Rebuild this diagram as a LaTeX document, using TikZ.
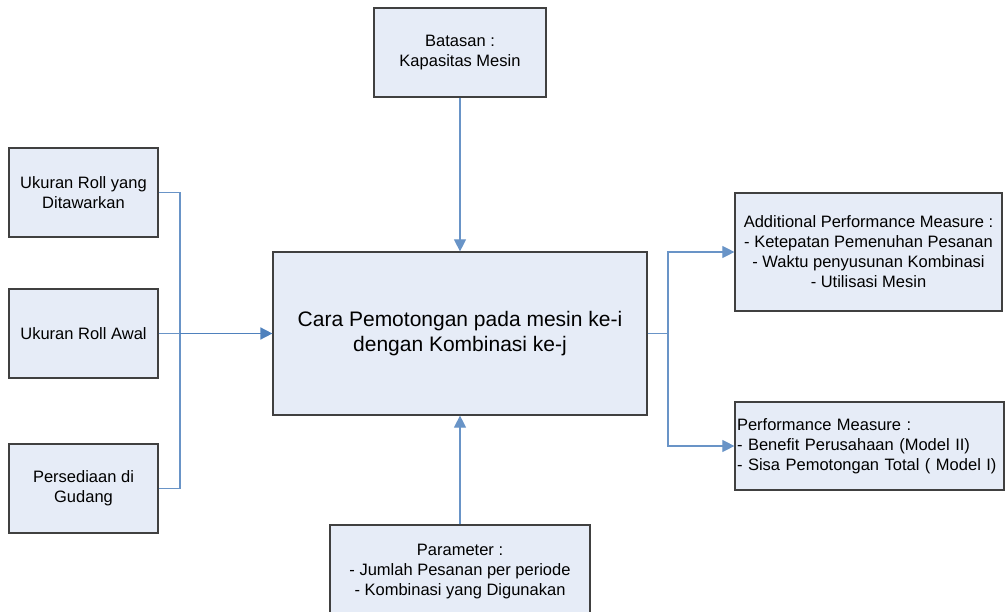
\documentclass[tikz,border=0pt]{standalone}
\usepackage{fontspec}
\setmainfont{Liberation Sans}
\usepackage{tikz}
\usetikzlibrary{arrows.meta,positioning}
\usepackage{xcolor}
\definecolor{boxfill}{HTML}{E6ECF7}
\definecolor{boxline}{HTML}{404040}
\definecolor{linkblue}{HTML}{4F81BD}

\begin{document}
\begin{tikzpicture}[
    x=1pt, y=-1pt,
    >={Triangle[length=12pt,width=12pt]},
    box/.style={rectangle, draw=boxline, line width=1.2pt, fill=boxfill, align=center, inner sep=5pt, font=\fontsize{16.5}{20}\selectfont},
    bigbox/.style={box, font=\fontsize{21}{25}\selectfont},
    link/.style={draw=linkblue!85, line width=1.1pt},
    mainlink/.style={draw=linkblue, line width=1.6pt}
]
    \useasboundingbox (0,0) rectangle (1008,612);
    \clip (0,0) rectangle (1008,612);

    % Pusat
    \node[bigbox, minimum width=374, minimum height=163] (cara) at (460,333.5)
        {Cara Pemotongan pada mesin ke-i\\dengan Kombinasi ke-j};

    % Batasan dan parameter
    \node[box, minimum width=172, minimum height=89] (batasan) at (460,52.5)
        {Batasan :\\Kapasitas Mesin};
    \node[box, minimum width=260, minimum height=94] (parameter) at (460,572)
        {Parameter :\\- Jumlah Pesanan per periode\\- Kombinasi yang Digunakan};

    % Input
    \node[box, minimum width=149, minimum height=89] (ditawarkan) at (83.5,192.5)
        {Ukuran Roll yang\\Ditawarkan};
    \node[box, minimum width=149, minimum height=89] (awal) at (83.5,333.5)
        {Ukuran Roll Awal};
    \node[box, minimum width=149, minimum height=89] (gudang) at (83.5,488.5)
        {Persediaan di\\Gudang};

    % Output
    \node[box, minimum width=267, minimum height=118] (additional) at (868.5,252)
        {Additional Performance Measure :\\- Ketepatan Pemenuhan Pesanan\\- Waktu penyusunan Kombinasi\\- Utilisasi Mesin};
    \node[box, minimum height=88, text width=265, inner xsep=2pt, align=left] (performance) at (869.5,446)
        {Performance Measure :\\- Benefit Perusahaan (Model II)\\- Sisa Pemotongan Total ( Model I)};

    \coordinate (kiri) at (180,333.5);
    \coordinate (kanan) at (668,333.5);

    % Connectors
    \draw[link] (ditawarkan.east) -| (kiri);
    \draw[link] (gudang.east) -| (kiri);
    \draw[link] (awal.east) -- (kiri);
    \draw[mainlink, ->] (kiri) -- (cara.west);

    \draw[link, ->] (batasan.south) -- (cara.north);
    \draw[link, ->] (parameter.north) -- (cara.south);

    \draw[link] (cara.east) -- (kanan);
    \draw[link, ->] (kanan) |- (additional.west);
    \draw[link, ->] (kanan) |- (performance.west);
\end{tikzpicture}
\end{document}
